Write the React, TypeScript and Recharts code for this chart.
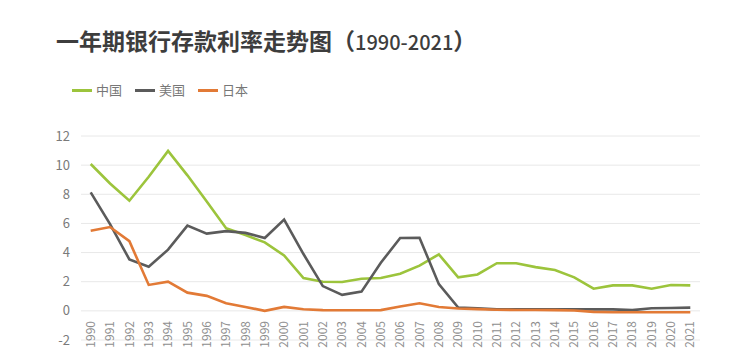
import { CartesianGrid, Line, LineChart, XAxis, YAxis } from "recharts";

const years = [
  "1990", "1991", "1992", "1993", "1994", "1995", "1996", "1997",
  "1998", "1999", "2000", "2001", "2002", "2003", "2004", "2005",
  "2006", "2007", "2008", "2009", "2010", "2011", "2012", "2013",
  "2014", "2015", "2016", "2017", "2018", "2019", "2020", "2021",
];

const china = [
  10.08, 8.74, 7.56, 9.2, 10.98, 9.3, 7.5, 5.67,
  5.2, 4.7, 3.8, 2.25, 2.0, 1.98, 2.2, 2.25,
  2.55, 3.1, 3.88, 2.3, 2.5, 3.27, 3.27, 3.0,
  2.8, 2.3, 1.52, 1.75, 1.75, 1.52, 1.77, 1.75,
];

const usa = [
  8.13, 5.95, 3.53, 3.03, 4.2, 5.85, 5.3, 5.47,
  5.35, 5.0, 6.26, 3.9, 1.7, 1.1, 1.32, 3.3,
  5.0, 5.02, 1.83, 0.23, 0.18, 0.1, 0.1, 0.1,
  0.1, 0.1, 0.1, 0.1, 0.05, 0.18, 0.2, 0.22,
];

const japan = [
  5.5, 5.75, 4.78, 1.78, 2.0, 1.25, 1.03, 0.52,
  0.27, 0.0, 0.27, 0.11, 0.05, 0.04, 0.04, 0.05,
  0.3, 0.52, 0.27, 0.16, 0.12, 0.08, 0.06, 0.06,
  0.05, 0.02, -0.07, -0.1, -0.1, -0.1, -0.1, -0.1,
];

const yTicks = [-2, 0, 2, 4, 6, 8, 10, 12];

const series = [
  { key: "china", name: "中国", color: "#9cc43c" },
  { key: "usa", name: "美国", color: "#5b5b5b" },
  { key: "japan", name: "日本", color: "#e27a36" },
];

const data = years.map((year, i) => ({
  year,
  china: china[i],
  usa: usa[i],
  japan: japan[i],
}));

const font = '"Noto Sans CJK SC", "Noto Sans", sans-serif';

// year labels sit just under the zero line, like the original Excel chart
function YearTick({ x, y, payload }: any) {
  const ax = x;
  const ay = y - 19;
  return (
    <text
      x={ax}
      y={ay}
      transform={`rotate(-90, ${ax}, ${ay})`}
      textAnchor="end"
      dy="0.35em"
      fontSize={12}
      fill="#8f8f8f"
      fontFamily={font}
    >
      {payload.value}
    </text>
  );
}

export default function App() {
  return (
    <div
      style={{
        position: "absolute",
        left: 0,
        top: 0,
        width: 741,
        height: 363,
        background: "#fff",
        fontFamily: font,
      }}
    >
      <div
        style={{
          position: "absolute",
          left: 56,
          top: 28,
          fontSize: 23,
          lineHeight: "24px",
          fontWeight: 700,
          color: "#3d3d3d",
          whiteSpace: "nowrap",
        }}
      >
        一年期银行存款利率走势图（
        <span style={{ fontSize: 20, fontWeight: 500 }}>1990-2021</span>）
      </div>

      <div
        style={{
          position: "absolute",
          left: 72,
          top: 82,
          display: "flex",
          alignItems: "center",
          fontSize: 13,
          color: "#777",
          lineHeight: "16px",
        }}
      >
        {series.map((s) => (
          <div
            key={s.key}
            style={{ display: "flex", alignItems: "center", marginRight: 13 }}
          >
            <span
              style={{
                display: "inline-block",
                width: 20,
                height: 3,
                background: s.color,
                marginRight: 4,
              }}
            />
            {s.name}
          </div>
        ))}
      </div>

      <LineChart
        width={741}
        height={363}
        data={data}
        margin={{ top: 136, right: 41, bottom: 0, left: 0 }}
        style={{ position: "absolute", left: 0, top: 0 }}
      >
        <CartesianGrid vertical={false} stroke="#e8e8e8" />
        <XAxis
          dataKey="year"
          interval={0}
          axisLine={false}
          tickLine={false}
          tickSize={0}
          tickMargin={0}
          height={23}
          padding={{ left: 9.7, right: 9.7 }}
          tick={<YearTick />}
        />
        <YAxis
          domain={[-2, 12]}
          ticks={yTicks}
          axisLine={false}
          tickLine={false}
          tickSize={0}
          tickMargin={11}
          width={81}
          tick={{ fontSize: 13, fill: "#7a7a7a", fontFamily: font }}
        />
        {series.map((s) => (
          <Line
            key={s.key}
            type="linear"
            dataKey={s.key}
            name={s.name}
            stroke={s.color}
            strokeWidth={2.6}
            dot={false}
            isAnimationActive={false}
          />
        ))}
      </LineChart>
    </div>
  );
}
